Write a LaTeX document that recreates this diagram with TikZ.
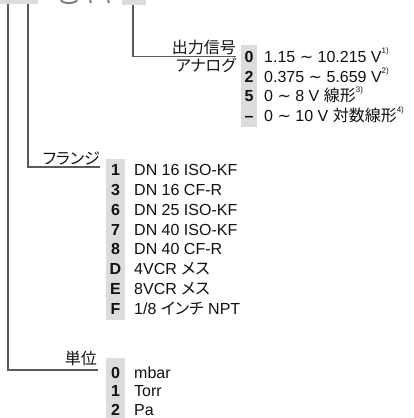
\documentclass[tikz,border=0pt]{standalone}
\usepackage{fontspec}
\setmainfont{Liberation Sans}
\newfontfamily\cjkp[RawFeature=+palt]{Noto Sans CJK JP}
\newfontfamily\dejavu{DejaVu Sans}
\definecolor{linegray}{HTML}{5A5A5A}
\definecolor{boxgray}{HTML}{DCDCDC}
\definecolor{textblack}{HTML}{111111}
\definecolor{fraggray}{HTML}{808080}
\newcommand\supnote[1]{\raisebox{0.55em}{\fontsize{8}{8}\selectfont #1}}
\newcommand\tl{{\dejavu ∼}}
\begin{document}
\begin{tikzpicture}[x=1pt,y=-1pt,
  conn/.style={draw=linegray, line width=1.4pt},
  keybox/.style={fill=boxgray, draw=none},
  keydigit/.style={font=\fontsize{16}{19}\selectfont\bfseries, text=textblack, inner sep=0pt, anchor=base},
  item/.style={font=\fontsize{16}{19}\selectfont, text=textblack, inner sep=0pt, anchor=base west},
  grouplabel/.style={font=\cjkp\fontsize{16}{19}\selectfont, text=textblack, inner sep=0pt, anchor=base east},
  frag/.style={draw=fraggray, line width=2pt}
]
\useasboundingbox (0,0) rectangle (414,418);
% top row fragments
\fill[keybox] (0,0) rectangle (38,4);
\fill[keybox] (122,0) rectangle (146,5);
\draw[frag] (61,0) .. controls (62,4) and (76,4) .. (77,0);
\draw[frag] (90,0) -- (91,3);
\draw[frag] (108,0) -- (109,3);
% connector coordinates
\coordinate (top1) at (8,4);
\coordinate (top2) at (28,4);
\coordinate (top3) at (133,5);
\coordinate (end1) at (98,370);
\coordinate (end2) at (100,167);
\coordinate (end3) at (236,56.5);
\draw[conn] (top1) |- (end1);
\draw[conn] (top2) |- (end2);
\draw[conn] (top3) |- (end3);
% output signal
\node[grouplabel] (outlbl) at (236,53.5) {出力信号};
\node[grouplabel] (outlbl2) at (236,71) {アナログ};
\fill[keybox] (241,45) rectangle (257,127);
\foreach \d/\t [count=\i from 0] in {0/{1.15 \tl{} 10.215 V\supnote{1)}}, 2/{0.375 \tl{} 5.659 V\supnote{2)}}, 5/{0 \tl{} 8 V {\cjkp 線形}\supnote{3)}}, –/{0 \tl{} 10 V {\cjkp 対数線形}\supnote{4)}}}{
  \node[keydigit] (od\i) at (249,62.7+19.5*\i) {\d};
  \node[item] (ot\i) at (264,62.7+19.5*\i) {\t};
}
% flange
\node[grouplabel] (flbl) at (100,164.5) {フランジ};
\fill[keybox] (106,159) rectangle (125,320);
\foreach \d/\t [count=\i from 0] in {1/DN 16 ISO-KF, 3/DN 16 CF-R, 6/DN 25 ISO-KF, 7/DN 40 ISO-KF, 8/DN 40 CF-R, D/4VCR {\cjkp メス}, E/8VCR {\cjkp メス}, F/{1/8 {\cjkp インチ} NPT}}{
  \node[keydigit] (fd\i) at (115.5,175.7+19.8*\i) {\d};
  \node[item] (ft\i) at (134,175.7+19.8*\i) {\t};
}
% units
\node[grouplabel] (ulbl) at (97,364) {単位};
\fill[keybox] (106,358) rectangle (125,418);
\node[keydigit] (ud0) at (115.5,378) {0};
\node[keydigit] (ud1) at (115.5,396.8) {1};
\node[keydigit] (ud2) at (115.5,415.4) {2};
\node[item] (ut0) at (134,378) {mbar};
\node[item] (ut1) at (134,396.8) {Torr};
\node[item] (ut2) at (134,415.4) {Pa};
\end{tikzpicture}
\end{document}
